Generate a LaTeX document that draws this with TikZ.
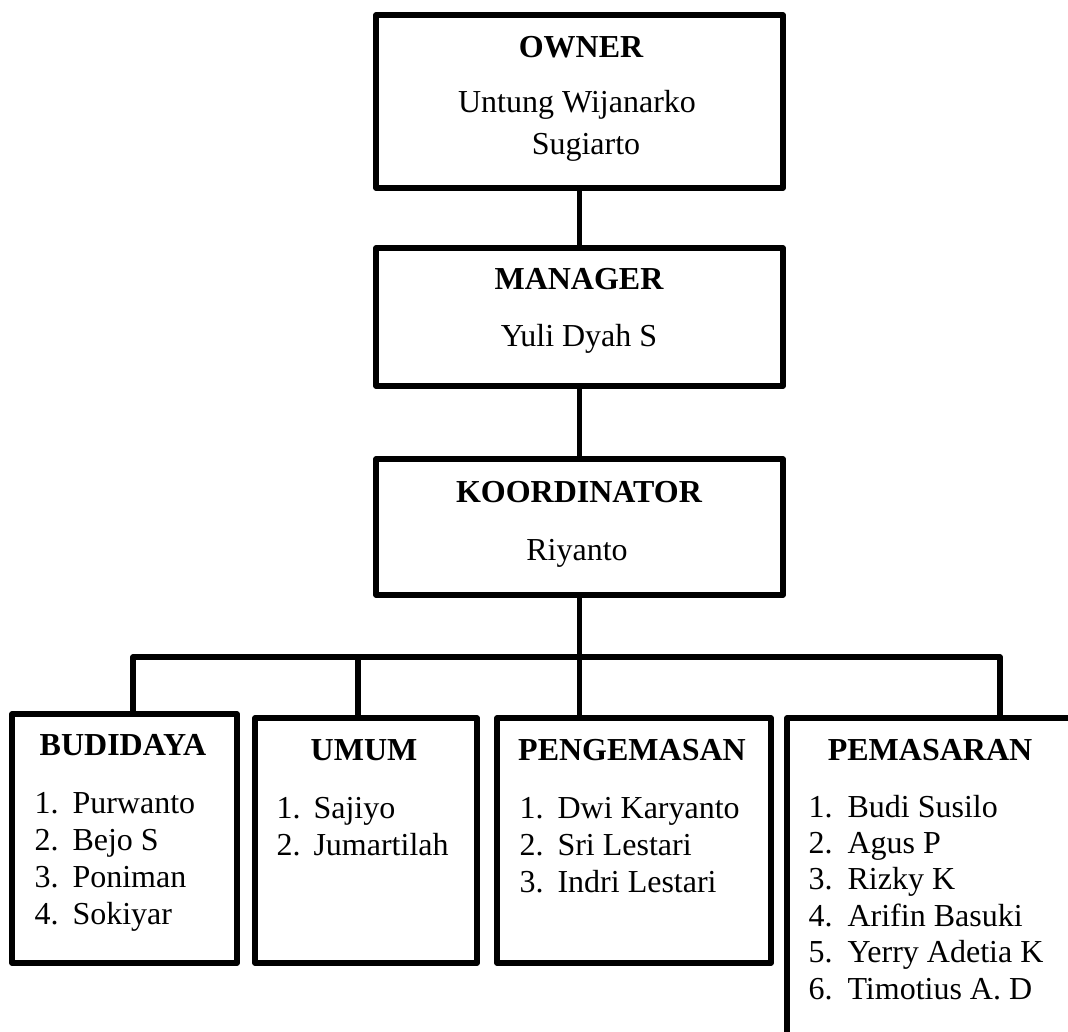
\documentclass[tikz,border=0pt]{standalone}
\usepackage{fontspec}
\setmainfont{Liberation Serif}
\begin{document}
\begin{tikzpicture}[x=0.375pt,y=-0.375pt,
  box/.style={draw=black, line width=2pt, line join=round, rectangle, inner sep=0pt, outer sep=0pt},
  conn/.style={draw=black, line width=2pt, line join=round},
  head/.style={font=\fontsize{12pt}{14pt}\selectfont\bfseries, inner sep=0pt, anchor=base},
  txt/.style={font=\fontsize{12pt}{14pt}\selectfont, inner sep=0pt, anchor=base},
  item/.style={font=\fontsize{12pt}{14pt}\selectfont, inner sep=0pt, anchor=base west}]
\useasboundingbox (0,0) rectangle (1068,1032);
\clip (0,0) rectangle (1068,1032);

% boxes
\node[box, minimum width=407*0.375pt, minimum height=173*0.375pt] (owner) at (579.5,101.5) {};
\node[box, minimum width=407*0.375pt, minimum height=138*0.375pt] (manager) at (579.5,317) {};
\node[box, minimum width=407*0.375pt, minimum height=136*0.375pt] (koord) at (579.5,527) {};
\node[box, minimum width=225*0.375pt, minimum height=249*0.375pt] (bud) at (124.5,838.5) {};
\node[box, minimum width=222*0.375pt, minimum height=245*0.375pt] (umum) at (366,840.5) {};
\node[box, minimum width=274*0.375pt, minimum height=245*0.375pt] (peng) at (634,840.5) {};
\node[box, minimum width=303*0.375pt, minimum height=342*0.375pt] (pem) at (938.5,889) {};

% connectors
\coordinate (bl) at (133,657);
\coordinate (br) at (1000,657);
\coordinate (bu) at (358,657);
\draw[conn] (owner.south) -- (manager.north);
\draw[conn] (manager.south) -- (koord.north);
\draw[conn] (koord.south) -- (peng.north -| koord.south);
\draw[conn] (bud.north -| bl) -- (bl) -- (br) -- (pem.north -| br);
\draw[conn] (bu) -- (umum.north -| bu);

% top texts
\node[head] (t1) at (581,58) {OWNER};
\node[txt] (t2) at (577,113) {Untung Wijanarko};
\node[txt] (t3) at (586,155) {Sugiarto};
\node[head] (t4) at (579,290) {MANAGER};
\node[txt] (t5) at (579,347) {Yuli Dyah S};
\node[head] (t6) at (579,502) {KOORDINATOR};
\node[txt] (t7) at (577,560) {Riyanto};

% headers of departments
\node[head] (h1) at (123,755) {BUDIDAYA};
\node[head] (h2) at (364,760) {UMUM};
\node[head] (h3) at (632,760) {PENGEMASAN};
\node[head] (h4) at (930,760) {PEMASARAN};

% lists
\foreach \t [count=\i] in {Purwanto, Bejo S, Poniman, Sokiyar} {
  \node[item] (bn\i) at (34,{813+37*(\i-1)}) {\i.};
  \node[item] (bt\i) at (72,{813+37*(\i-1)}) {\t};
}
\foreach \t [count=\i] in {Sajiyo, Jumartilah} {
  \node[item] (un\i) at (276,{818+37*(\i-1)}) {\i.};
  \node[item] (ut\i) at (313,{818+37*(\i-1)}) {\t};
}
\foreach \t [count=\i] in {Dwi Karyanto, Sri Lestari, Indri Lestari} {
  \node[item] (pn\i) at (519,{818+37*(\i-1)}) {\i.};
  \node[item] (pt\i) at (557,{818+37*(\i-1)}) {\t};
}
\foreach \t [count=\i] in {Budi Susilo, Agus P, Rizky K, Arifin Basuki, Yerry Adetia K, Timotius A. D} {
  \node[item] (mn\i) at (808,{817+36.4*(\i-1)}) {\i.};
  \node[item] (mt\i) at (847,{817+36.4*(\i-1)}) {\t};
}
\end{tikzpicture}
\end{document}
